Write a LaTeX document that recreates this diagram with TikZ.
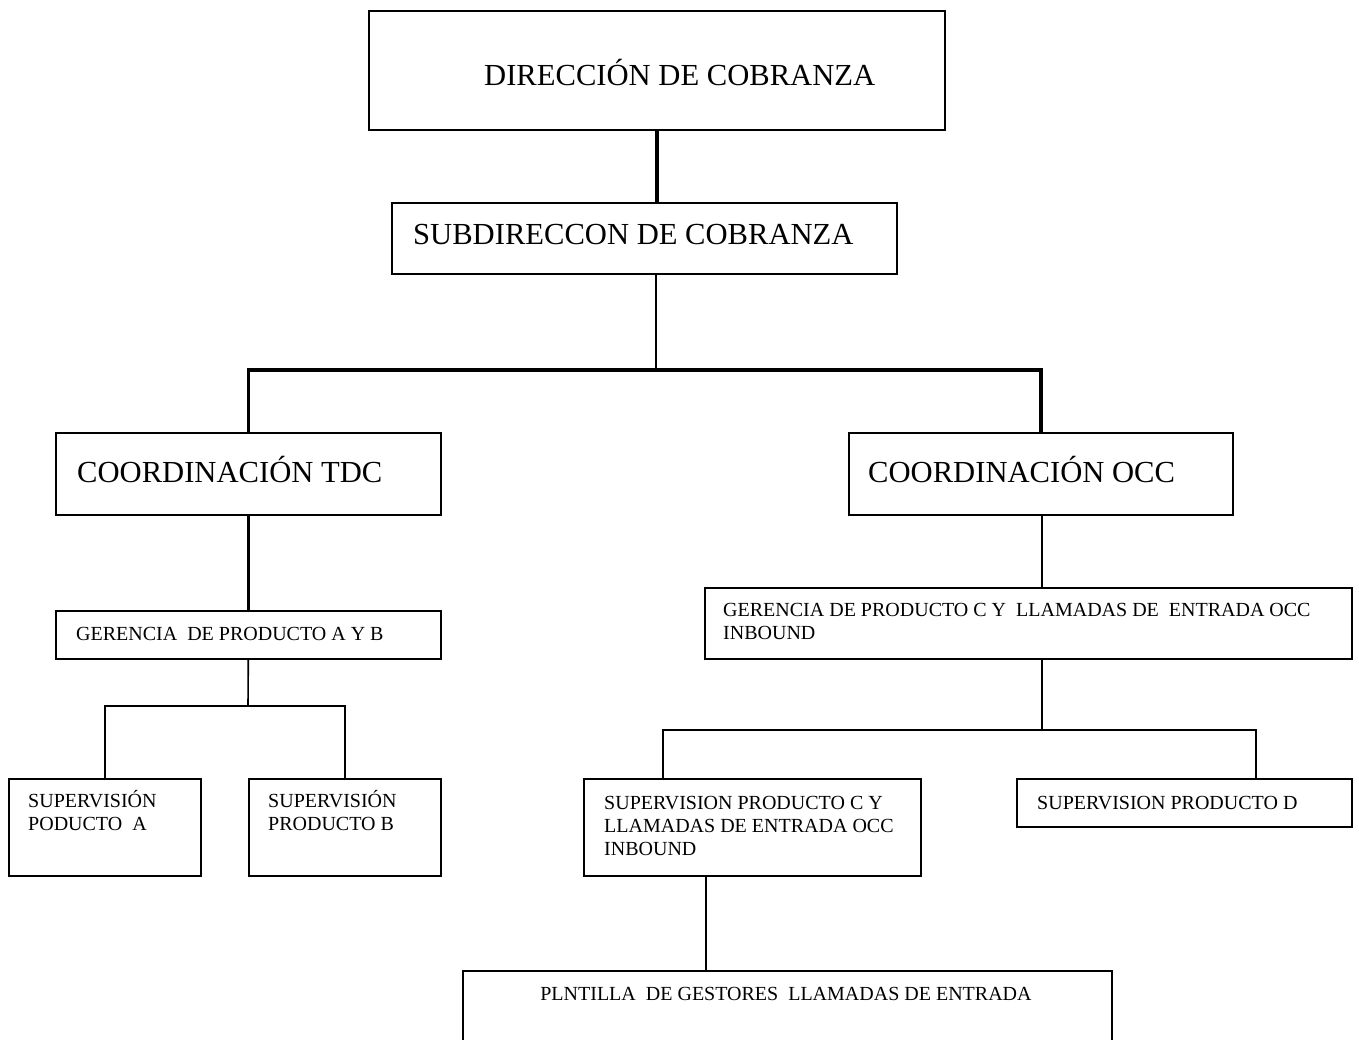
\documentclass[tikz,border=0pt]{standalone}
\usepackage{fontspec}
\setmainfont{Liberation Serif}
\begin{document}
\begin{tikzpicture}[x=1pt,y=-1pt,
  box/.style={draw, line width=1.6pt, anchor=north west, inner sep=0pt, rectangle},
  thinline/.style={line width=1.6pt},
  thickline/.style={line width=3.6pt},
  big/.style={anchor=base west, inner sep=0pt, font=\fontsize{30.6}{36}\selectfont},
  small/.style={anchor=base west, inner sep=0pt, font=\fontsize{20}{23}\selectfont}]
\clip (0,0) rectangle (1359,1039);
\fill[white] (0,0) rectangle (1359,1039);

% boxes
\node[box, minimum width=576pt, minimum height=119pt] (dir)  at (368,10)  {};
\node[box, minimum width=505pt, minimum height=71pt]  (sub)  at (391,202) {};
\node[box, minimum width=385pt, minimum height=82pt]  (tdc)  at (55,432)  {};
\node[box, minimum width=384pt, minimum height=82pt]  (occ)  at (848,432) {};
\node[box, minimum width=385pt, minimum height=48pt]  (gerab) at (55,610) {};
\node[box, minimum width=192pt, minimum height=97pt]  (supa) at (8,778)   {};
\node[box, minimum width=192pt, minimum height=97pt]  (supb) at (248,778) {};
\node[box, minimum width=647pt, minimum height=71pt]  (gerc) at (704,587) {};
\node[box, minimum width=337pt, minimum height=97pt]  (supc) at (583,778) {};
\node[box, minimum width=335pt, minimum height=48pt]  (supd) at (1016,778) {};
\node[box, minimum width=649pt, minimum height=100pt] (plnt) at (462,970) {};

% labels
\node[big] (tdir) at (484,85)  {DIRECCIÓN DE COBRANZA};
\node[big] (tsub) at (413,244) {SUBDIRECCON DE COBRANZA};
\node[big] (ttdc) at (77,482)  {COORDINACIÓN TDC};
\node[big] (tocc) at (868,482) {COORDINACIÓN OCC};
\node[small] (tgerab) at (76,640) {GERENCIA\ \ DE PRODUCTO A Y B};
\node[small] (tsupa) at (28,807) {\begin{tabular}[t]{@{}l@{}}SUPERVISIÓN\\PODUCTO\ \ A\end{tabular}};
\node[small] (tsupb) at (268,807) {\begin{tabular}[t]{@{}l@{}}SUPERVISIÓN\\PRODUCTO B\end{tabular}};
\node[small] (tgerc) at (723,616) {\begin{tabular}[t]{@{}l@{}}GERENCIA DE PRODUCTO C Y\ \ LLAMADAS DE\ \ ENTRADA OCC\\INBOUND\end{tabular}};
\node[small] (tsupc) at (604,809) {\begin{tabular}[t]{@{}l@{}}SUPERVISION PRODUCTO C Y\\LLAMADAS DE ENTRADA OCC\\INBOUND\end{tabular}};
\node[small] (tsupd) at (1037,809) {SUPERVISION PRODUCTO D};
\node[small, anchor=base] (tplnt) at (786,1000) {PLNTILLA\ \ DE GESTORES\ \ LLAMADAS DE ENTRADA};

% junction points
\coordinate (bus) at (656,370);
\coordinate (jab) at (248,706);
\coordinate (jc)  at (1042,730);
\coordinate (jcl) at (663,730);
\coordinate (jcr) at (1256,730);
\coordinate (jp)  at (706,970);

% connectors
\draw[thickline] (dir.south) -- (dir.south |- sub.north);
\draw[thinline] (bus |- sub.south) -- (bus);
\draw[thickline] (tdc.north) |- (bus) -| (occ.north);
\draw[thickline] (tdc.south) -- (gerab.north);
\draw[thinline] (gerab.south) -- (jab);
\draw[thinline] (supa.north) |- (jab) -| (supb.north);
\draw[thinline] (jc |- occ.south) -- (jc |- gerc.north);
\draw[thinline] (jc |- gerc.south) -- (jc);
\draw[thinline] (jcl |- supc.north) -- (jcl) -- (jcr) -- (jcr |- supd.north);
\draw[thinline] (jp |- supc.south) -- (jp);
\end{tikzpicture}
\end{document}
